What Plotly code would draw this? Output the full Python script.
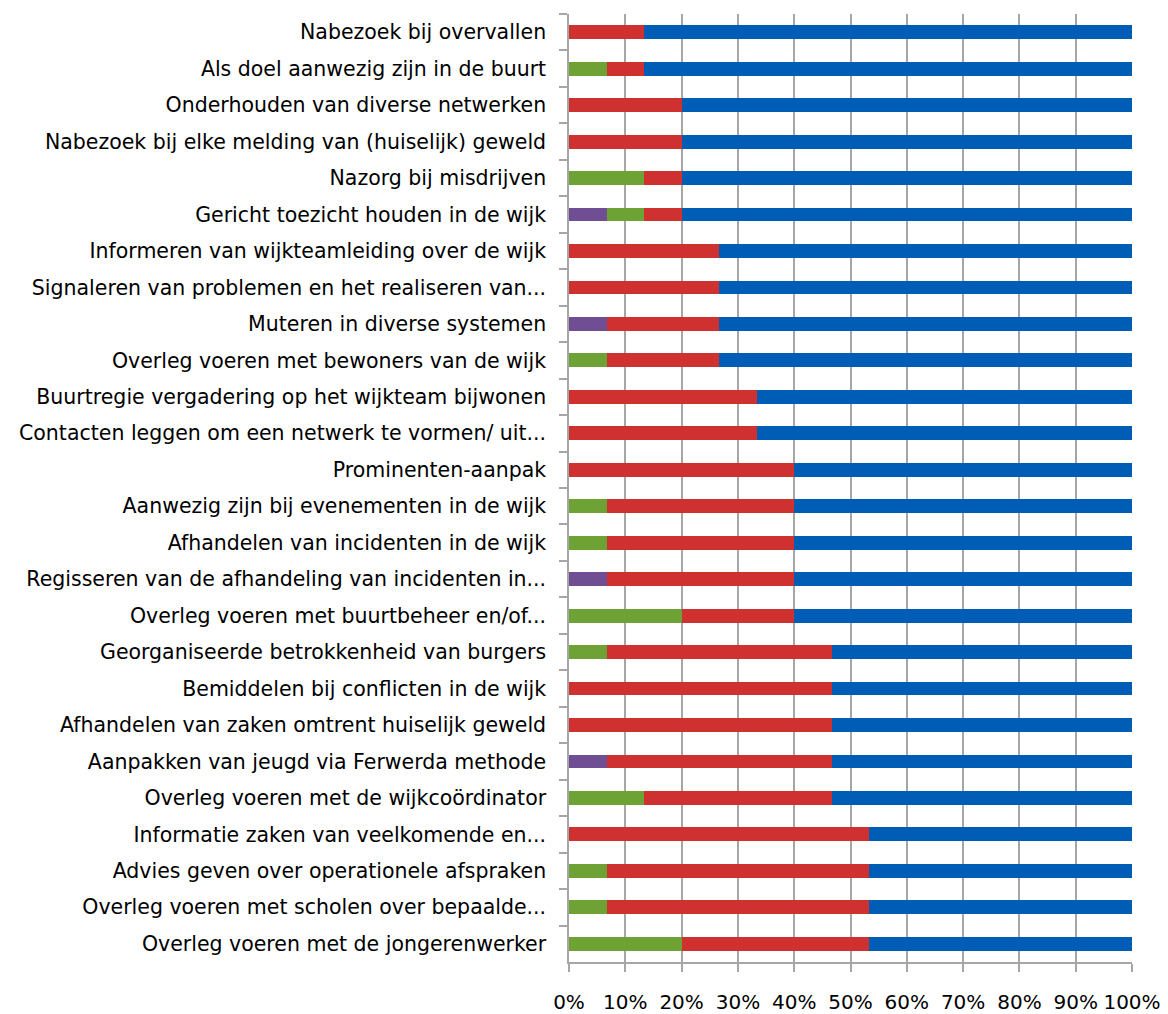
import plotly.graph_objects as go

categories = [
    "Nabezoek bij overvallen",
    "Als doel aanwezig zijn in de buurt",
    "Onderhouden van diverse netwerken",
    "Nabezoek bij elke melding van (huiselijk) geweld",
    "Nazorg bij misdrijven",
    "Gericht toezicht houden in de wijk",
    "Informeren van wijkteamleiding over de wijk",
    "Signaleren van problemen en het realiseren van...",
    "Muteren in diverse systemen",
    "Overleg voeren met bewoners van de wijk",
    "Buurtregie vergadering op het wijkteam bijwonen",
    "Contacten leggen om een netwerk te vormen/ uit...",
    "Prominenten-aanpak",
    "Aanwezig zijn bij evenementen in de wijk",
    "Afhandelen van incidenten in de wijk",
    "Regisseren van de afhandeling van incidenten in...",
    "Overleg voeren met buurtbeheer en/of...",
    "Georganiseerde betrokkenheid van burgers",
    "Bemiddelen bij conflicten in de wijk",
    "Afhandelen van zaken omtrent huiselijk geweld",
    "Aanpakken van jeugd via Ferwerda methode",
    "Overleg voeren met de wijkcoördinator",
    "Informatie zaken van veelkomende en...",
    "Advies geven over operationele afspraken",
    "Overleg voeren met scholen over bepaalde...",
    "Overleg voeren met de jongerenwerker",
]

# counts out of 15 respondents
purple = [0, 0, 0, 0, 0, 1, 0, 0, 1, 0, 0, 0, 0, 0, 0, 1, 0, 0, 0, 0, 1, 0, 0, 0, 0, 0]
green  = [0, 1, 0, 0, 2, 1, 0, 0, 0, 1, 0, 0, 0, 1, 1, 0, 3, 1, 0, 0, 0, 2, 0, 1, 1, 3]
red    = [2, 1, 3, 3, 1, 1, 4, 4, 3, 3, 5, 5, 6, 5, 5, 5, 3, 6, 7, 7, 6, 5, 8, 7, 7, 5]
blue   = [13, 13, 12, 12, 12, 12, 11, 11, 11, 11, 10, 10, 9, 9, 9, 9, 9, 8, 8, 8, 8, 8, 7, 7, 7, 7]

x_ticks = [0, 10, 20, 30, 40, 50, 60, 70, 80, 90, 100]
x_tick_labels = [f"{v}%" for v in x_ticks]

series = [
    ("Paars", purple, "#6F4E94"),
    ("Groen", green, "#6EA234"),
    ("Rood", red, "#CF3030"),
    ("Blauw", blue, "#005DB5"),
]

fig = go.Figure()
for name, vals, color in series:
    pct = [100.0 * v / (p + g + r + b) for v, p, g, r, b in zip(vals, purple, green, red, blue)]
    fig.add_trace(go.Bar(
        y=categories, x=pct, name=name, orientation="h",
        marker=dict(color=color, line=dict(width=0)),
        hoverinfo="y+x",
    ))

fig.update_layout(
    barmode="stack",
    bargap=0.62,
    width=1168, height=1014,
    margin=dict(l=569, r=36, t=14, b=52),
    paper_bgcolor="white", plot_bgcolor="white",
    showlegend=False,
    font=dict(family="DejaVu Sans, sans-serif", size=20, color="black"),
)
fig.update_xaxes(
    range=[0, 100], tickvals=x_ticks, ticktext=x_tick_labels,
    showgrid=True, gridcolor="#A6A6A6", gridwidth=1.5,
    showline=True, linecolor="#A6A6A6", linewidth=1.5,
    ticks="outside", ticklen=8, tickcolor="#A6A6A6", tickwidth=1.5,
    ticklabelstandoff=13, zeroline=False, automargin=False,
    tickfont=dict(size=20),
)
fig.update_yaxes(
    autorange="reversed", type="category",
    showline=True, linecolor="#A6A6A6", linewidth=1.5,
    ticks="outside", ticklen=8, tickcolor="#A6A6A6", tickwidth=1.5,
    tickson="boundaries", showgrid=False, automargin=False,
    ticklabelstandoff=17,
    tickfont=dict(size=20.5),
)

fig.write_html("out.html")
